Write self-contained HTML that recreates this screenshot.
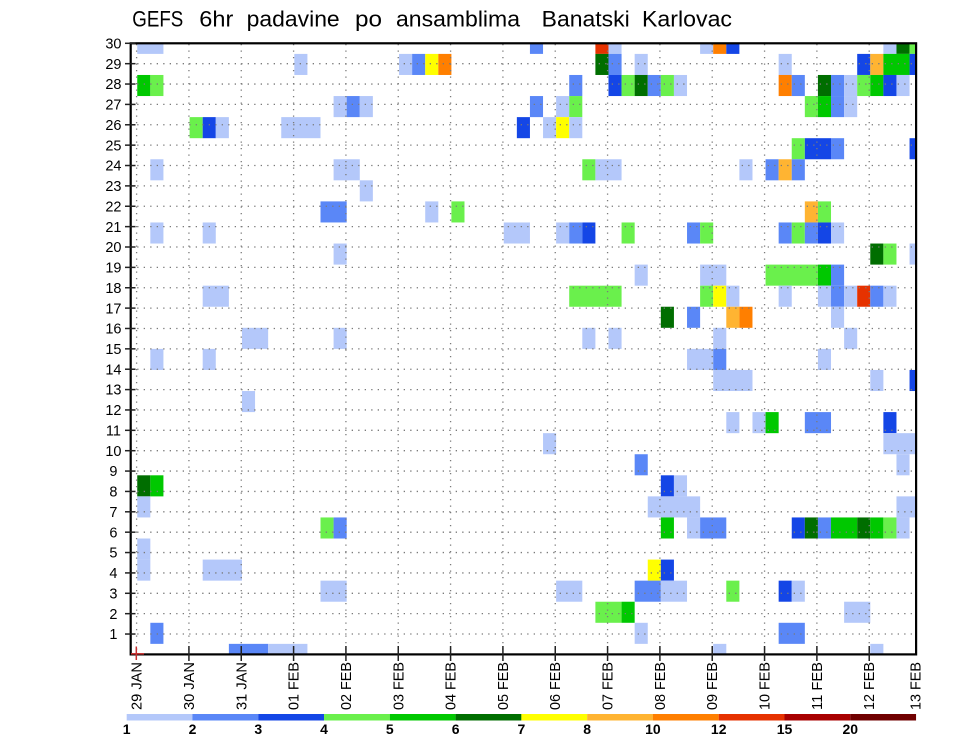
<!DOCTYPE html>
<html><head><meta charset="utf-8"><style>
html,body{margin:0;padding:0;background:#fff;}
svg{display:block;}
.a{fill:#b4c8fa}.b{fill:#5a87f7}.c{fill:#1446e6}.d{fill:#6af04c}.e{fill:#00c800}.f{fill:#006e00}
.g{fill:#ffff00}.h{fill:#ffb432}.i{fill:#ff7f00}.k{fill:#e63200}.m{fill:#a80000}.n{fill:#700000}
text{font-family:"Liberation Sans",sans-serif;fill:#000;}
.gr line{stroke:#7a7a7a;stroke-width:1.3;stroke-dasharray:1.3 5.2;}
.yl{font-size:14.5px;text-anchor:middle;}
.xl{font-size:15px;}
.cb{font-size:14px;font-weight:bold;text-anchor:middle;}
</style></head><body>
<svg width="960" height="742" viewBox="0 0 960 742" xmlns="http://www.w3.org/2000/svg">
<defs><clipPath id="pc"><rect x="130.7" y="43.3" width="785.4" height="611.1"/></clipPath></defs>
<rect width="960" height="742" fill="#fff"/>
<g font-size="22.5">
<text x="132.3" y="26.5" textLength="51" lengthAdjust="spacingAndGlyphs">GEFS</text>
<text x="199.3" y="26.5" textLength="34" lengthAdjust="spacingAndGlyphs">6hr</text>
<text x="246.7" y="26.5" textLength="93" lengthAdjust="spacingAndGlyphs">padavine</text>
<text x="355" y="26.5" textLength="27" lengthAdjust="spacingAndGlyphs">po</text>
<text x="396" y="26.5" textLength="124" lengthAdjust="spacingAndGlyphs">ansamblima</text>
<text x="541.7" y="26.5" textLength="88" lengthAdjust="spacingAndGlyphs">Banatski</text>
<text x="642" y="26.5" textLength="90" lengthAdjust="spacingAndGlyphs">Karlovac</text>
</g>
<g clip-path="url(#pc)"><g transform="translate(124.155,664.935) scale(13.09,-21.07)">
<rect class="a" x="1" y="29" width="2" height="1"/><rect class="b" x="31" y="29" width="1" height="1"/>
<rect class="k" x="36" y="29" width="1" height="1"/><rect class="a" x="37" y="29" width="1" height="1"/>
<rect class="a" x="44" y="29" width="1" height="1"/><rect class="i" x="45" y="29" width="1" height="1"/>
<rect class="c" x="46" y="29" width="1" height="1"/><rect class="a" x="58" y="29" width="1" height="1"/>
<rect class="f" x="59" y="29" width="1" height="1"/><rect class="d" x="60" y="29" width="1" height="1"/>
<rect class="a" x="13" y="28" width="1" height="1"/><rect class="a" x="21" y="28" width="1" height="1"/>
<rect class="b" x="22" y="28" width="1" height="1"/><rect class="g" x="23" y="28" width="1" height="1"/>
<rect class="i" x="24" y="28" width="1" height="1"/><rect class="f" x="36" y="28" width="1" height="1"/>
<rect class="b" x="37" y="28" width="1" height="1"/><rect class="a" x="39" y="28" width="1" height="1"/>
<rect class="a" x="50" y="28" width="1" height="1"/><rect class="c" x="56" y="28" width="1" height="1"/>
<rect class="h" x="57" y="28" width="1" height="1"/><rect class="e" x="58" y="28" width="2" height="1"/>
<rect class="c" x="60" y="28" width="1" height="1"/>
<rect class="e" x="1" y="27" width="1" height="1"/><rect class="d" x="2" y="27" width="1" height="1"/>
<rect class="b" x="34" y="27" width="1" height="1"/><rect class="c" x="37" y="27" width="1" height="1"/>
<rect class="d" x="38" y="27" width="1" height="1"/><rect class="f" x="39" y="27" width="1" height="1"/>
<rect class="b" x="40" y="27" width="1" height="1"/><rect class="d" x="41" y="27" width="1" height="1"/>
<rect class="a" x="42" y="27" width="1" height="1"/><rect class="i" x="50" y="27" width="1" height="1"/>
<rect class="b" x="51" y="27" width="1" height="1"/><rect class="f" x="53" y="27" width="1" height="1"/>
<rect class="b" x="54" y="27" width="1" height="1"/><rect class="a" x="55" y="27" width="1" height="1"/>
<rect class="d" x="56" y="27" width="1" height="1"/><rect class="e" x="57" y="27" width="1" height="1"/>
<rect class="c" x="58" y="27" width="1" height="1"/><rect class="a" x="59" y="27" width="1" height="1"/>
<rect class="a" x="16" y="26" width="1" height="1"/><rect class="b" x="17" y="26" width="1" height="1"/>
<rect class="a" x="18" y="26" width="1" height="1"/><rect class="b" x="31" y="26" width="1" height="1"/>
<rect class="a" x="33" y="26" width="1" height="1"/><rect class="d" x="34" y="26" width="1" height="1"/>
<rect class="d" x="52" y="26" width="1" height="1"/><rect class="e" x="53" y="26" width="1" height="1"/>
<rect class="b" x="54" y="26" width="1" height="1"/><rect class="a" x="55" y="26" width="1" height="1"/>
<rect class="d" x="5" y="25" width="1" height="1"/><rect class="c" x="6" y="25" width="1" height="1"/>
<rect class="a" x="7" y="25" width="1" height="1"/><rect class="a" x="12" y="25" width="3" height="1"/>
<rect class="c" x="30" y="25" width="1" height="1"/><rect class="a" x="32" y="25" width="1" height="1"/>
<rect class="g" x="33" y="25" width="1" height="1"/><rect class="a" x="34" y="25" width="1" height="1"/>
<rect class="d" x="51" y="24" width="1" height="1"/><rect class="c" x="52" y="24" width="2" height="1"/>
<rect class="b" x="54" y="24" width="1" height="1"/><rect class="c" x="60" y="24" width="1" height="1"/>
<rect class="a" x="2" y="23" width="1" height="1"/><rect class="a" x="16" y="23" width="2" height="1"/>
<rect class="d" x="35" y="23" width="1" height="1"/><rect class="a" x="36" y="23" width="2" height="1"/>
<rect class="a" x="47" y="23" width="1" height="1"/><rect class="b" x="49" y="23" width="1" height="1"/>
<rect class="h" x="50" y="23" width="1" height="1"/><rect class="b" x="51" y="23" width="1" height="1"/>
<rect class="a" x="18" y="22" width="1" height="1"/>
<rect class="b" x="15" y="21" width="2" height="1"/><rect class="a" x="23" y="21" width="1" height="1"/>
<rect class="d" x="25" y="21" width="1" height="1"/><rect class="h" x="52" y="21" width="1" height="1"/>
<rect class="d" x="53" y="21" width="1" height="1"/>
<rect class="a" x="2" y="20" width="1" height="1"/><rect class="a" x="6" y="20" width="1" height="1"/>
<rect class="a" x="29" y="20" width="2" height="1"/><rect class="a" x="33" y="20" width="1" height="1"/>
<rect class="b" x="34" y="20" width="1" height="1"/><rect class="c" x="35" y="20" width="1" height="1"/>
<rect class="d" x="38" y="20" width="1" height="1"/><rect class="b" x="43" y="20" width="1" height="1"/>
<rect class="d" x="44" y="20" width="1" height="1"/><rect class="b" x="50" y="20" width="1" height="1"/>
<rect class="d" x="51" y="20" width="1" height="1"/><rect class="b" x="52" y="20" width="1" height="1"/>
<rect class="c" x="53" y="20" width="1" height="1"/><rect class="a" x="54" y="20" width="1" height="1"/>
<rect class="a" x="16" y="19" width="1" height="1"/><rect class="f" x="57" y="19" width="1" height="1"/>
<rect class="d" x="58" y="19" width="1" height="1"/><rect class="a" x="60" y="19" width="1" height="1"/>
<rect class="a" x="39" y="18" width="1" height="1"/><rect class="a" x="44" y="18" width="2" height="1"/>
<rect class="d" x="49" y="18" width="4" height="1"/><rect class="e" x="53" y="18" width="1" height="1"/>
<rect class="b" x="54" y="18" width="1" height="1"/>
<rect class="a" x="6" y="17" width="2" height="1"/><rect class="d" x="34" y="17" width="4" height="1"/>
<rect class="d" x="44" y="17" width="1" height="1"/><rect class="g" x="45" y="17" width="1" height="1"/>
<rect class="a" x="46" y="17" width="1" height="1"/><rect class="a" x="50" y="17" width="1" height="1"/>
<rect class="a" x="53" y="17" width="1" height="1"/><rect class="b" x="54" y="17" width="1" height="1"/>
<rect class="a" x="55" y="17" width="1" height="1"/><rect class="k" x="56" y="17" width="1" height="1"/>
<rect class="b" x="57" y="17" width="1" height="1"/><rect class="a" x="58" y="17" width="1" height="1"/>
<rect class="f" x="41" y="16" width="1" height="1"/><rect class="b" x="43" y="16" width="1" height="1"/>
<rect class="h" x="46" y="16" width="1" height="1"/><rect class="i" x="47" y="16" width="1" height="1"/>
<rect class="a" x="54" y="16" width="1" height="1"/>
<rect class="a" x="9" y="15" width="2" height="1"/><rect class="a" x="16" y="15" width="1" height="1"/>
<rect class="a" x="35" y="15" width="1" height="1"/><rect class="a" x="37" y="15" width="1" height="1"/>
<rect class="a" x="45" y="15" width="1" height="1"/><rect class="a" x="55" y="15" width="1" height="1"/>
<rect class="a" x="2" y="14" width="1" height="1"/><rect class="a" x="6" y="14" width="1" height="1"/>
<rect class="a" x="43" y="14" width="2" height="1"/><rect class="b" x="45" y="14" width="1" height="1"/>
<rect class="a" x="53" y="14" width="1" height="1"/>
<rect class="a" x="45" y="13" width="3" height="1"/><rect class="a" x="57" y="13" width="1" height="1"/>
<rect class="c" x="60" y="13" width="1" height="1"/>
<rect class="a" x="9" y="12" width="1" height="1"/>
<rect class="a" x="46" y="11" width="1" height="1"/><rect class="a" x="48" y="11" width="1" height="1"/>
<rect class="e" x="49" y="11" width="1" height="1"/><rect class="b" x="52" y="11" width="2" height="1"/>
<rect class="c" x="58" y="11" width="1" height="1"/>
<rect class="a" x="32" y="10" width="1" height="1"/><rect class="a" x="58" y="10" width="3" height="1"/>
<rect class="b" x="39" y="9" width="1" height="1"/><rect class="a" x="59" y="9" width="1" height="1"/>
<rect class="f" x="1" y="8" width="1" height="1"/><rect class="e" x="2" y="8" width="1" height="1"/>
<rect class="c" x="41" y="8" width="1" height="1"/><rect class="a" x="42" y="8" width="1" height="1"/>
<rect class="a" x="1" y="7" width="1" height="1"/><rect class="a" x="40" y="7" width="4" height="1"/>
<rect class="a" x="59" y="7" width="2" height="1"/>
<rect class="d" x="15" y="6" width="1" height="1"/><rect class="b" x="16" y="6" width="1" height="1"/>
<rect class="e" x="41" y="6" width="1" height="1"/><rect class="a" x="43" y="6" width="1" height="1"/>
<rect class="b" x="44" y="6" width="2" height="1"/><rect class="c" x="51" y="6" width="1" height="1"/>
<rect class="f" x="52" y="6" width="1" height="1"/><rect class="b" x="53" y="6" width="1" height="1"/>
<rect class="e" x="54" y="6" width="2" height="1"/><rect class="f" x="56" y="6" width="1" height="1"/>
<rect class="e" x="57" y="6" width="1" height="1"/><rect class="d" x="58" y="6" width="1" height="1"/>
<rect class="a" x="59" y="6" width="1" height="1"/>
<rect class="a" x="1" y="5" width="1" height="1"/>
<rect class="a" x="1" y="4" width="1" height="1"/><rect class="a" x="6" y="4" width="3" height="1"/>
<rect class="g" x="40" y="4" width="1" height="1"/><rect class="c" x="41" y="4" width="1" height="1"/>
<rect class="a" x="15" y="3" width="2" height="1"/><rect class="a" x="33" y="3" width="2" height="1"/>
<rect class="b" x="39" y="3" width="2" height="1"/><rect class="a" x="41" y="3" width="2" height="1"/>
<rect class="d" x="46" y="3" width="1" height="1"/><rect class="c" x="50" y="3" width="1" height="1"/>
<rect class="a" x="51" y="3" width="1" height="1"/>
<rect class="d" x="36" y="2" width="2" height="1"/><rect class="e" x="38" y="2" width="1" height="1"/>
<rect class="a" x="55" y="2" width="2" height="1"/>
<rect class="b" x="2" y="1" width="1" height="1"/><rect class="a" x="39" y="1" width="1" height="1"/>
<rect class="b" x="50" y="1" width="2" height="1"/>
<rect class="b" x="8" y="0" width="3" height="1"/><rect class="a" x="11" y="0" width="3" height="1"/>
<rect class="a" x="45" y="0" width="1" height="1"/><rect class="a" x="57" y="0" width="1" height="1"/>
</g></g>
<g class="gr">
<line x1="130.7" x2="916" y1="634.03" y2="634.03"/><line x1="130.7" x2="916" y1="613.66" y2="613.66"/>
<line x1="130.7" x2="916" y1="593.29" y2="593.29"/><line x1="130.7" x2="916" y1="572.92" y2="572.92"/>
<line x1="130.7" x2="916" y1="552.55" y2="552.55"/><line x1="130.7" x2="916" y1="532.18" y2="532.18"/>
<line x1="130.7" x2="916" y1="511.81" y2="511.81"/><line x1="130.7" x2="916" y1="491.44" y2="491.44"/>
<line x1="130.7" x2="916" y1="471.07" y2="471.07"/><line x1="130.7" x2="916" y1="450.70" y2="450.70"/>
<line x1="130.7" x2="916" y1="430.33" y2="430.33"/><line x1="130.7" x2="916" y1="409.96" y2="409.96"/>
<line x1="130.7" x2="916" y1="389.59" y2="389.59"/><line x1="130.7" x2="916" y1="369.22" y2="369.22"/>
<line x1="130.7" x2="916" y1="348.85" y2="348.85"/><line x1="130.7" x2="916" y1="328.48" y2="328.48"/>
<line x1="130.7" x2="916" y1="308.11" y2="308.11"/><line x1="130.7" x2="916" y1="287.74" y2="287.74"/>
<line x1="130.7" x2="916" y1="267.37" y2="267.37"/><line x1="130.7" x2="916" y1="247.00" y2="247.00"/>
<line x1="130.7" x2="916" y1="226.63" y2="226.63"/><line x1="130.7" x2="916" y1="206.26" y2="206.26"/>
<line x1="130.7" x2="916" y1="185.89" y2="185.89"/><line x1="130.7" x2="916" y1="165.52" y2="165.52"/>
<line x1="130.7" x2="916" y1="145.15" y2="145.15"/><line x1="130.7" x2="916" y1="124.78" y2="124.78"/>
<line x1="130.7" x2="916" y1="104.41" y2="104.41"/><line x1="130.7" x2="916" y1="84.04" y2="84.04"/>
<line x1="130.7" x2="916" y1="63.67" y2="63.67"/>
<line y1="44" y2="654" x1="136.6" x2="136.6"/><line y1="44" y2="654" x1="188.93" x2="188.93"/>
<line y1="44" y2="654" x1="241.26" x2="241.26"/><line y1="44" y2="654" x1="293.59" x2="293.59"/>
<line y1="44" y2="654" x1="345.92" x2="345.92"/><line y1="44" y2="654" x1="398.25" x2="398.25"/>
<line y1="44" y2="654" x1="450.58" x2="450.58"/><line y1="44" y2="654" x1="502.91" x2="502.91"/>
<line y1="44" y2="654" x1="555.24" x2="555.24"/><line y1="44" y2="654" x1="607.57" x2="607.57"/>
<line y1="44" y2="654" x1="659.9" x2="659.9"/><line y1="44" y2="654" x1="712.23" x2="712.23"/>
<line y1="44" y2="654" x1="764.56" x2="764.56"/><line y1="44" y2="654" x1="816.89" x2="816.89"/>
<line y1="44" y2="654" x1="869.22" x2="869.22"/>
</g>
<rect x="130.7" y="43.3" width="785.4" height="611.1" fill="none" stroke="#000" stroke-width="2.2"/>
<g stroke="#222" stroke-width="1.5">
<line x1="125" x2="135.5" y1="634.03" y2="634.03"/><line x1="125" x2="135.5" y1="613.66" y2="613.66"/>
<line x1="125" x2="135.5" y1="593.29" y2="593.29"/><line x1="125" x2="135.5" y1="572.92" y2="572.92"/>
<line x1="125" x2="135.5" y1="552.55" y2="552.55"/><line x1="125" x2="135.5" y1="532.18" y2="532.18"/>
<line x1="125" x2="135.5" y1="511.81" y2="511.81"/><line x1="125" x2="135.5" y1="491.44" y2="491.44"/>
<line x1="125" x2="135.5" y1="471.07" y2="471.07"/><line x1="125" x2="135.5" y1="450.70" y2="450.70"/>
<line x1="125" x2="135.5" y1="430.33" y2="430.33"/><line x1="125" x2="135.5" y1="409.96" y2="409.96"/>
<line x1="125" x2="135.5" y1="389.59" y2="389.59"/><line x1="125" x2="135.5" y1="369.22" y2="369.22"/>
<line x1="125" x2="135.5" y1="348.85" y2="348.85"/><line x1="125" x2="135.5" y1="328.48" y2="328.48"/>
<line x1="125" x2="135.5" y1="308.11" y2="308.11"/><line x1="125" x2="135.5" y1="287.74" y2="287.74"/>
<line x1="125" x2="135.5" y1="267.37" y2="267.37"/><line x1="125" x2="135.5" y1="247.00" y2="247.00"/>
<line x1="125" x2="135.5" y1="226.63" y2="226.63"/><line x1="125" x2="135.5" y1="206.26" y2="206.26"/>
<line x1="125" x2="135.5" y1="185.89" y2="185.89"/><line x1="125" x2="135.5" y1="165.52" y2="165.52"/>
<line x1="125" x2="135.5" y1="145.15" y2="145.15"/><line x1="125" x2="135.5" y1="124.78" y2="124.78"/>
<line x1="125" x2="135.5" y1="104.41" y2="104.41"/><line x1="125" x2="135.5" y1="84.04" y2="84.04"/>
<line x1="125" x2="135.5" y1="63.67" y2="63.67"/><line x1="125" x2="135.5" y1="43.3" y2="43.3"/>
<line y1="646" y2="661" x1="188.93" x2="188.93"/><line y1="646" y2="661" x1="241.26" x2="241.26"/>
<line y1="646" y2="661" x1="293.59" x2="293.59"/><line y1="646" y2="661" x1="345.92" x2="345.92"/>
<line y1="646" y2="661" x1="398.25" x2="398.25"/><line y1="646" y2="661" x1="450.58" x2="450.58"/>
<line y1="646" y2="661" x1="502.91" x2="502.91"/><line y1="646" y2="661" x1="555.24" x2="555.24"/>
<line y1="646" y2="661" x1="607.57" x2="607.57"/><line y1="646" y2="661" x1="659.9" x2="659.9"/>
<line y1="646" y2="661" x1="712.23" x2="712.23"/><line y1="646" y2="661" x1="764.56" x2="764.56"/>
<line y1="646" y2="661" x1="816.89" x2="816.89"/><line y1="646" y2="661" x1="869.22" x2="869.22"/>
</g>
<g stroke="#c83030" stroke-width="1.5">
<line x1="136.3" x2="136.3" y1="646.5" y2="660"/><line x1="131" x2="144" y1="653.8" y2="653.8"/>
</g>
<g class="yl">
<text x="113.4" y="639.2">1</text><text x="113.4" y="618.8">2</text><text x="113.4" y="598.4">3</text>
<text x="113.4" y="578.1">4</text><text x="113.4" y="557.7">5</text><text x="113.4" y="537.3">6</text>
<text x="113.4" y="517">7</text><text x="113.4" y="496.6">8</text><text x="113.4" y="476.2">9</text>
<text x="113.4" y="455.9">10</text><text x="113.4" y="435.5">11</text><text x="113.4" y="415.1">12</text>
<text x="113.4" y="394.7">13</text><text x="113.4" y="374.4">14</text><text x="113.4" y="354">15</text>
<text x="113.4" y="333.6">16</text><text x="113.4" y="313.3">17</text><text x="113.4" y="292.9">18</text>
<text x="113.4" y="272.5">19</text><text x="113.4" y="252.2">20</text><text x="113.4" y="231.8">21</text>
<text x="113.4" y="211.4">22</text><text x="113.4" y="191">23</text><text x="113.4" y="170.7">24</text>
<text x="113.4" y="150.3">25</text><text x="113.4" y="129.9">26</text><text x="113.4" y="109.6">27</text>
<text x="113.4" y="89.2">28</text><text x="113.4" y="68.8">29</text><text x="113.4" y="48.5">30</text>
</g>
<g class="xl">
<text transform="translate(141.6,710) rotate(-90)" textLength="48" lengthAdjust="spacingAndGlyphs">29 JAN</text>
<text transform="translate(193.9,710) rotate(-90)" textLength="48" lengthAdjust="spacingAndGlyphs">30 JAN</text>
<text transform="translate(246.3,710) rotate(-90)" textLength="48" lengthAdjust="spacingAndGlyphs">31 JAN</text>
<text transform="translate(298.6,710) rotate(-90)" textLength="48" lengthAdjust="spacingAndGlyphs">01 FEB</text>
<text transform="translate(350.9,710) rotate(-90)" textLength="48" lengthAdjust="spacingAndGlyphs">02 FEB</text>
<text transform="translate(403.3,710) rotate(-90)" textLength="48" lengthAdjust="spacingAndGlyphs">03 FEB</text>
<text transform="translate(455.6,710) rotate(-90)" textLength="48" lengthAdjust="spacingAndGlyphs">04 FEB</text>
<text transform="translate(507.9,710) rotate(-90)" textLength="48" lengthAdjust="spacingAndGlyphs">05 FEB</text>
<text transform="translate(560.2,710) rotate(-90)" textLength="48" lengthAdjust="spacingAndGlyphs">06 FEB</text>
<text transform="translate(612.6,710) rotate(-90)" textLength="48" lengthAdjust="spacingAndGlyphs">07 FEB</text>
<text transform="translate(664.9,710) rotate(-90)" textLength="48" lengthAdjust="spacingAndGlyphs">08 FEB</text>
<text transform="translate(717.2,710) rotate(-90)" textLength="48" lengthAdjust="spacingAndGlyphs">09 FEB</text>
<text transform="translate(769.6,710) rotate(-90)" textLength="48" lengthAdjust="spacingAndGlyphs">10 FEB</text>
<text transform="translate(821.9,710) rotate(-90)" textLength="48" lengthAdjust="spacingAndGlyphs">11 FEB</text>
<text transform="translate(874.2,710) rotate(-90)" textLength="48" lengthAdjust="spacingAndGlyphs">12 FEB</text>
<text transform="translate(920.5,710) rotate(-90)" textLength="48" lengthAdjust="spacingAndGlyphs">13 FEB</text>
</g>
<g>
<rect class="a" x="126.7" y="714" width="65.8" height="6.5"/>
<rect class="b" x="192.48" y="714" width="65.8" height="6.5"/>
<rect class="c" x="258.26" y="714" width="65.8" height="6.5"/>
<rect class="d" x="324.04" y="714" width="65.8" height="6.5"/>
<rect class="e" x="389.82" y="714" width="65.8" height="6.5"/>
<rect class="f" x="455.6" y="714" width="65.8" height="6.5"/>
<rect class="g" x="521.38" y="714" width="65.8" height="6.5"/>
<rect class="h" x="587.16" y="714" width="65.8" height="6.5"/>
<rect class="i" x="652.94" y="714" width="65.8" height="6.5"/>
<rect class="k" x="718.72" y="714" width="65.8" height="6.5"/>
<rect class="m" x="784.5" y="714" width="65.8" height="6.5"/>
<rect class="n" x="850.28" y="714" width="65.78" height="6.5"/>
</g>
<g class="cb">
<text x="126.7" y="734">1</text><text x="192.5" y="734">2</text><text x="258.3" y="734">3</text>
<text x="324" y="734">4</text><text x="389.8" y="734">5</text><text x="455.6" y="734">6</text>
<text x="521.4" y="734">7</text><text x="587.2" y="734">8</text><text x="652.9" y="734">10</text>
<text x="718.7" y="734">12</text><text x="784.5" y="734">15</text><text x="850.3" y="734">20</text>
</g>
</svg>
</body></html>
